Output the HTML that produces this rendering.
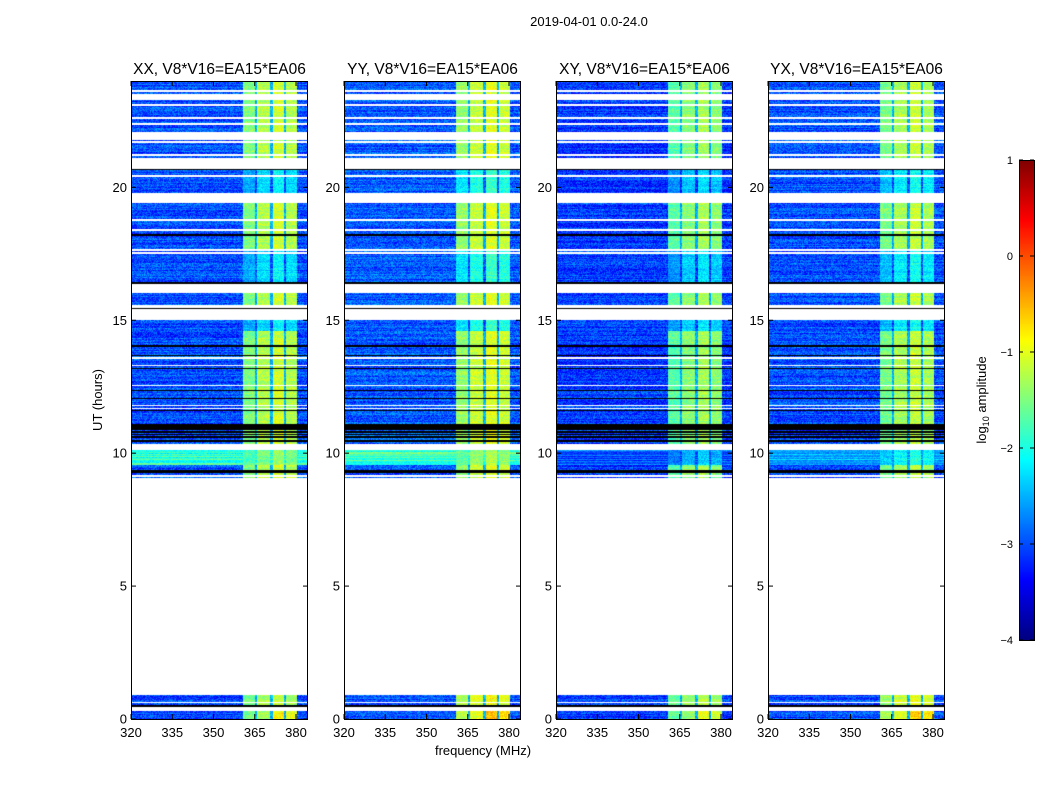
<!DOCTYPE html>
<html><head><meta charset="utf-8">
<style>
body{margin:0;background:#fff;}
#wrap{position:relative;width:1050px;height:800px;overflow:hidden;font-family:"Liberation Sans",sans-serif;}
canvas{position:absolute;}
svg{position:absolute;left:0;top:0;}
</style></head>
<body>
<div id="wrap">
<canvas id="c0" width="177" height="638" style="left:131px;top:81px"></canvas>
<canvas id="c1" width="176" height="638" style="left:344px;top:81px"></canvas>
<canvas id="c2" width="177" height="638" style="left:556px;top:81px"></canvas>
<canvas id="c3" width="177" height="638" style="left:768px;top:81px"></canvas>
<canvas id="cb" width="15" height="480" style="left:1019px;top:160px"></canvas>
<svg id="s" width="1050" height="800"></svg>
</div>
<script>
// ---- data ----
const panelTitles = ["XX, V8*V16=EA15*EA06","YY, V8*V16=EA15*EA06","XY, V8*V16=EA15*EA06","YX, V8*V16=EA15*EA06"];
const panelLeft = [131,344,556,768];
const xTicks = [320,335,350,365,380];
const yTicks = [0,5,10,15,20];
const cbTicks = [1,0,-1,-2,-3,-4];
// time segments (hours): start, end, type  D=data+band, d=data faint band, W=flagged(white), K=black, C=cyan rows
const segStart = [23.62,23.51,23.29,22.08,21.78,21.10,20.69,20.65,19.79,19.41,17.64,16.40,16.36,16.03,15.57,15.46,15.42,15.01,14.60,10.35,10.12,9.56,9.37,9.26,9.07,0.90,0.53,0.45,0.30,0];
const segEnd   = [24.00,23.62,23.51,23.29,22.08,21.78,21.10,20.69,20.65,19.79,19.41,17.64,16.40,16.36,16.03,15.57,15.46,15.42,15.01,14.60,10.35,10.12,9.56,9.37,9.26,9.07,0.90,0.53,0.45,0.30];
const segType  = ["D","D","W","D","W","D","W","K","d","W","D","d","K","W","D","W","K","W","d","D","W","C","D","K","D","W","D","K","W","D"];
// thin flagged lines (hours)
const whiteLines = [23.62,23.10,22.61,22.38,21.71,21.22,20.43,19.60,18.77,18.40,17.64,17.53,13.57,13.30,12.55,11.80,11.68,9.15,0.62];
const blackLines = [18.21,16.40,14.03,13.68,13.19,12.36,12.06,11.61,11.06,10.98,10.90,10.80,10.70,10.60,10.45];
// per-panel levels (log10 amplitude)
const bgLevel = [-3.0,-2.95,-3.1,-3.0];
const bandLevel = [-1.35,-1.25,-1.55,-1.4];
const faintBand = [-2.4,-2.1,-2.5,-2.3];
const cyanLevel = [-1.9,-1.8,-2.9,-2.5];
const lowBand = [-1.4,-1.1,-1.5,-1.2];
const stripeOffset = [-0.15,0.1,0.25,0.1]; // per band stripe
// ---- helpers ----
function jet(t){t=Math.max(0,Math.min(1,t));
 const r=Math.max(0,Math.min(1,1.5-Math.abs(4*t-3))),g=Math.max(0,Math.min(1,1.5-Math.abs(4*t-2))),b=Math.max(0,Math.min(1,1.5-Math.abs(4*t-1)));
 return [r*255,g*255,b*255];}
function hash(a,b,c){let h=(a*374761393+b*668265263+c*2147483647)|0;h=(h^(h>>>13))*1274126177;h=h^(h>>>16);return ((h>>>0)%10000)/10000;}
const H0=719, PXH=638/24, PXF=2.75;
function ypx(h){return H0-h*PXH;}
function typeAt(h){for(let i=0;i<segStart.length;i++){if(h>=segStart[i]&&h<segEnd[i])return segType[i];}return "W";}
function bandIdx(f){ if(f>=360.7&&f<365)return 0; if(f>=366&&f<370.5)return 1; if(f>=371.5&&f<375.5)return 2; if(f>=376.5&&f<380.4)return 3; if(f>=360.7&&f<380.4)return -2; return -1;}
// ---- draw heatmaps ----
for(let p=0;p<4;p++){
 const cv=document.getElementById('c'+p),ctx=cv.getContext('2d');
 const W=cv.width,Hh=cv.height,img=ctx.createImageData(W,Hh);
 for(let y=0;y<Hh;y++){
  const hr=(H0-(81+y+0.5))/PXH;
  let t=typeAt(hr);
  for(const w of whiteLines) if(Math.abs(ypx(w)-(81+y+0.5))<0.8) t="W";
  for(const k of blackLines) if(Math.abs(ypx(k)-(81+y+0.5))<0.8) t="K";
  const rowVar=(hash(p,y,7)-0.5)*0.4;
  for(let x=0;x<W;x++){
   const o=(y*W+x)*4; let col;
   if(t==="W"){col=[255,255,255];}
   else if(t==="K"){col=[0,0,0];}
   else{
    const f=320+(x+0.5)/PXF; const bi=bandIdx(f);
    let v=bgLevel[p]+rowVar+(hash(x,y,p+11)-0.5)*0.7;
    if(t==="C"){v=cyanLevel[p]+(hash(x,y,3)-0.5)*0.4+(hash(0,y,p)-0.5)*0.6;}
    if(bi>=0){
     let bl = t==="D"?bandLevel[p]:(t==="d"?faintBand[p]:cyanLevel[p]+0.3);
     if(hr<1) bl=lowBand[p]+ (hr<0.3&&(bi===2||bi===3)?0.3:0);
     v=bl+stripeOffset[bi]+(hash(x,y,p+5)-0.5)*0.5+rowVar*0.5;
    } else if(bi===-2 && (t==="D")){v=-2.5+(hash(x,y,9)-0.5)*0.5;}
    col=jet((v+4)/5);
   }
   img.data[o]=col[0];img.data[o+1]=col[1];img.data[o+2]=col[2];img.data[o+3]=255;
  }
 }
 ctx.putImageData(img,0,0);
}
// colorbar
{const cv=document.getElementById('cb'),ctx=cv.getContext('2d');
 for(let y=0;y<480;y++){const c=jet(1-(y+0.5)/480);ctx.fillStyle=`rgb(${c[0]|0},${c[1]|0},${c[2]|0})`;ctx.fillRect(0,y,15,1);}}
// ---- axes ----
const NS="http://www.w3.org/2000/svg",svg=document.getElementById('s');
function el(tag,attrs,txt){const e=document.createElementNS(NS,tag);for(const k in attrs)e.setAttribute(k,attrs[k]);if(txt!==undefined)e.textContent=txt;svg.appendChild(e);return e;}
let e=el('text',{x:589,y:26,'font-size':13,'text-anchor':'middle'},"2019-04-01 0.0-24.0");


for(let p=0;p<4;p++){
 const L=panelLeft[p],R=L+177;
 e=el('rect',{x:L+0.5,y:81.5,width:176,height:638,fill:'none',stroke:'#000','stroke-width':1});
 
 
 e=el('text',{x:L+88.5,y:74,'font-size':15.5,'text-anchor':'middle'},panelTitles[p]);
 
 
 for(const f of xTicks){const x=L+(f-320)*PXF;
  el('line',{x1:x,x2:x,y1:719,y2:714,stroke:'#000'});el('line',{x1:x,x2:x,y1:81,y2:86,stroke:'#000'});
  e=el('text',{x:x,y:737,'font-size':13,'text-anchor':'middle'},String(f));
  
  }
 for(const h of yTicks){const y=ypx(h);
  el('line',{x1:L,x2:L+5,y1:y,y2:y,stroke:'#000'});el('line',{x1:R,x2:R-5,y1:y,y2:y,stroke:'#000'});
  e=el('text',{x:L-4,y:y+4.5,'font-size':13,'text-anchor':'end'},String(h));
  
  }
}
e=el('text',{x:483,y:755,'font-size':13,'text-anchor':'middle'},"frequency (MHz)");


e=el('text',{x:0,y:0,'font-size':13,'text-anchor':'middle',transform:'translate(102,400) rotate(-90)'},"UT (hours)");


e=el('rect',{x:1019.5,y:160.5,width:15,height:480,fill:'none',stroke:'#000'});


for(const v of cbTicks){const y=160+(1-v)/5*480;
 el('line',{x1:1019,x2:1023,y1:y,y2:y,stroke:'#000'});el('line',{x1:1034,x2:1030,y1:y,y2:y,stroke:'#000'});
 e=el('text',{x:1013,y:y+4,'font-size':11,'text-anchor':'end'},v<0?"\u2212"+(-v):String(v));
 
 }
e=el('text',{x:0,y:0,'font-size':13,'text-anchor':'middle',transform:'translate(986,400) rotate(-90)'});
e.innerHTML='log<tspan font-size="9" dy="3">10</tspan><tspan dy="-3"> amplitude</tspan>';


</script>
</body></html>
